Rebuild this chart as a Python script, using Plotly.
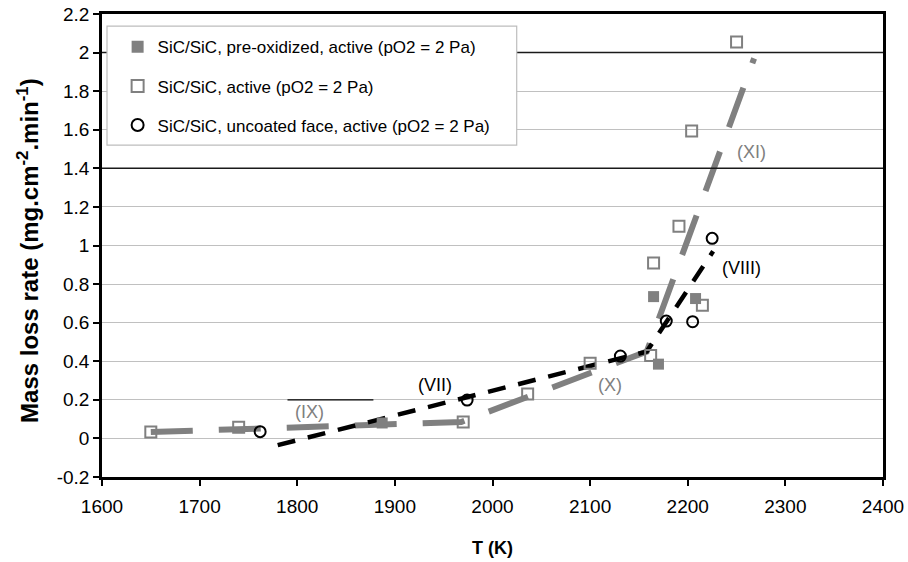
import plotly.graph_objects as go

# ---- data ----
preox_T = [1887, 2165, 2170, 2208]
preox_y = [0.08, 0.735, 0.385, 0.725]

active_T = [1650, 1740, 1970, 2036, 2100, 2162, 2165, 2191, 2204, 2250, 2215]
active_y = [0.033, 0.058, 0.085, 0.23, 0.39, 0.43, 0.909, 1.10, 1.593, 2.055, 0.69]

uncoated_T = [1762, 1974, 2131, 2178, 2205, 2225]
uncoated_y = [0.035, 0.199, 0.427, 0.608, 0.605, 1.037]

trend_gray_T = [1650, 1968, 2158, 2268]
trend_gray_y = [0.033, 0.085, 0.45, 1.97]

trend_black_T = [1780, 2158, 2226]
trend_black_y = [-0.035, 0.45, 0.97]

regime_labels = ["(IX)", "(VII)", "(X)", "(XI)", "(VIII)"]
regime_T = [1813, 1941, 2120, 2265, 2255]
regime_y = [0.137, 0.277, 0.277, 1.485, 0.883]
regime_colors = ["#808080", "#000000", "#808080", "#808080", "#000000"]

ytick_vals = [-0.2, 0, 0.2, 0.4, 0.6, 0.8, 1, 1.2, 1.4, 1.6, 1.8, 2, 2.2]
ytick_text = ["-0.2", "0", "0.2", "0.4", "0.6", "0.8", "1", "1.2", "1.4", "1.6", "1.8", "2", "2.2"]
xtick_vals = [1600, 1700, 1800, 1900, 2000, 2100, 2200, 2300, 2400]

dark_grid_y = [2.0, 1.4]
stray_line_T = [1790, 1878]
stray_line_y = 0.2

FONT = "Arial, Liberation Sans, sans-serif"
GRAY = "#808080"

fig = go.Figure()

fig.add_trace(go.Scatter(x=trend_gray_T, y=trend_gray_y, mode="lines",
                         line=dict(color=GRAY, width=6, dash="42px,26px"),
                         showlegend=False, hoverinfo="skip"))
fig.add_trace(go.Scatter(x=trend_black_T, y=trend_black_y, mode="lines",
                         line=dict(color="black", width=4.5, dash="18px,13px"),
                         showlegend=False, hoverinfo="skip"))

fig.add_trace(go.Scatter(x=preox_T, y=preox_y, mode="markers",
                         name="SiC/SiC, pre-oxidized, active (pO2 = 2 Pa)",
                         legendgroup="a",
                         marker=dict(symbol="square", size=11, color=GRAY,
                                     line=dict(width=0))))
fig.add_trace(go.Scatter(x=active_T, y=active_y, mode="markers",
                         name="SiC/SiC, active (pO2 = 2 Pa)",
                         legendgroup="b",
                         marker=dict(symbol="square-open", size=11, color=GRAY,
                                     line=dict(width=2, color=GRAY))))
fig.add_trace(go.Scatter(x=uncoated_T, y=uncoated_y, mode="markers",
                         name="SiC/SiC, uncoated face, active (pO2 = 2 Pa)",
                         legendgroup="c",
                         marker=dict(symbol="circle-open", size=11, color="black",
                                     line=dict(width=2, color="black"))))

for lab, t, v, c in zip(regime_labels, regime_T, regime_y, regime_colors):
    fig.add_annotation(x=t, y=v, text=lab, showarrow=False,
                       font=dict(family=FONT, size=18, color=c))

# y axis title as rotated annotation
fig.add_annotation(xref="paper", yref="paper", x=-0.095, y=0.49,
                   xanchor="center", yanchor="middle", textangle=-90, showarrow=False,
                   text="<b>Mass loss rate (mg.cm<sup>-2</sup>.min<sup>-1</sup>)</b>",
                   font=dict(family=FONT, size=24, color="black"))

shapes = []
for gy in dark_grid_y:
    shapes.append(dict(type="line", xref="paper", yref="y", x0=0, x1=1, y0=gy, y1=gy,
                       line=dict(color="#1a1a1a", width=1.5), layer="above"))
shapes.append(dict(type="line", xref="x", yref="y", x0=stray_line_T[0], x1=stray_line_T[1],
                   y0=stray_line_y, y1=stray_line_y, line=dict(color="black", width=1.2),
                   layer="above"))
# legend frame
shapes.append(dict(type="rect", xref="paper", yref="paper", x0=0.0064, x1=0.531,
                   y0=0.717, y1=0.974, fillcolor="white",
                   line=dict(color="#bdbdbd", width=1.2), layer="above"))

fig.update_layout(
    width=908, height=562,
    margin=dict(l=102, r=25, t=14, b=85, autoexpand=False),
    paper_bgcolor="white", plot_bgcolor="white",
    font=dict(family=FONT, size=17, color="black"),
    shapes=shapes,
    showlegend=True,
    legend=dict(x=0.02, y=0.967, xanchor="left", yanchor="top",
                bgcolor="rgba(0,0,0,0)", borderwidth=0,
                font=dict(family=FONT, size=17, color="black"),
                tracegroupgap=14, itemsizing="constant"),
    xaxis=dict(range=[1600, 2400], tickvals=xtick_vals, ticks="outside", ticklen=6,
               tickwidth=1.5, tickcolor="black", showgrid=False, zeroline=False,
               showline=True, linecolor="black", linewidth=2.5, mirror=True,
               automargin=False, ticklabelstandoff=4,
               tickfont=dict(family=FONT, size=19),
               title=dict(text="<b>T (K)</b>", font=dict(family=FONT, size=18), standoff=26)),
    yaxis=dict(range=[-0.2, 2.2], tickvals=ytick_vals, ticktext=ytick_text,
               ticks="outside", ticklen=6, tickwidth=1.5, tickcolor="black",
               showgrid=True, gridcolor="#c0c0c0", gridwidth=1, zeroline=False,
               showline=True, linecolor="black", linewidth=2.5, mirror=True,
               automargin=False,
               tickfont=dict(family=FONT, size=19)),
)

fig.write_html("out.html")
